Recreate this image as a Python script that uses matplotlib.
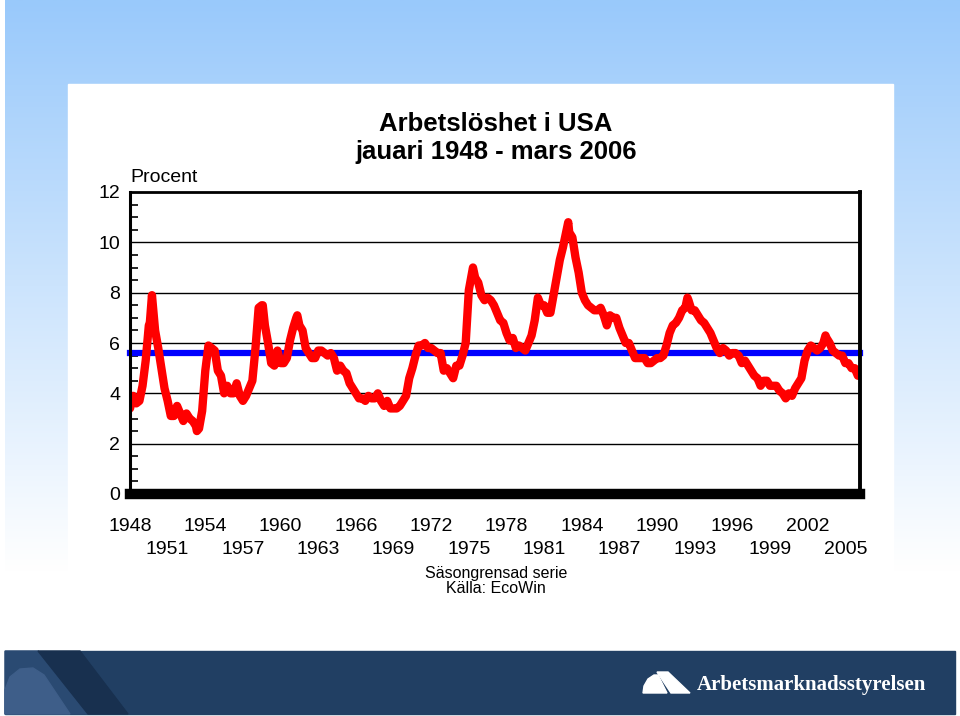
import numpy as np
import matplotlib
matplotlib.use("Agg")
import matplotlib.pyplot as plt
from matplotlib.patches import Rectangle, Polygon

# US unemployment rate (%), sampled Jan/Apr/Jul/Oct, 1948-2005
first_year = 1948
rate_q = [
    3.4, 3.9, 3.6, 3.7,   # 1948
    4.3, 5.3, 6.7, 7.9,   # 1949
    6.5, 5.8, 5.0, 4.2,   # 1950
    3.7, 3.1, 3.1, 3.5,   # 1951
    3.2, 2.9, 3.2, 3.0,   # 1952
    2.9, 2.7, 2.6, 3.3,   # 1953
    4.9, 5.9, 5.8, 5.7,   # 1954
    4.9, 4.7, 4.0, 4.3,   # 1955
    4.0, 4.0, 4.4, 3.9,   # 1956
    3.7, 3.9, 4.2, 4.5,   # 1957
    5.8, 7.4, 7.5, 6.7,   # 1958
    6.0, 5.2, 5.1, 5.7,   # 1959
    5.2, 5.2, 5.4, 6.1,   # 1960
    6.6, 7.0, 6.7, 6.5,   # 1961
    5.8, 5.6, 5.4, 5.4,   # 1962
    5.7, 5.7, 5.6, 5.5,   # 1963
    5.6, 5.4, 4.9, 5.1,   # 1964
    4.9, 4.8, 4.4, 4.2,   # 1965
    4.0, 3.8, 3.8, 3.7,   # 1966
    3.9, 3.8, 3.8, 4.0,   # 1967
    3.7, 3.5, 3.7, 3.4,   # 1968
    3.4, 3.4, 3.5, 3.7,   # 1969
    3.9, 4.6, 5.0, 5.5,   # 1970
    5.9, 5.9, 6.0, 5.8,   # 1971
    5.8, 5.7, 5.6, 5.6,   # 1972
    4.9, 5.0, 4.8, 4.6,   # 1973
    5.1, 5.1, 5.5, 6.0,   # 1974
    8.1, 8.8, 8.6, 8.4,   # 1975
    7.9, 7.7, 7.8, 7.7,   # 1976
    7.5, 7.2, 6.9, 6.8,   # 1977
    6.4, 6.1, 6.2, 5.8,   # 1978
    5.9, 5.8, 5.7, 6.0,   # 1979
    6.3, 6.9, 7.8, 7.5,   # 1980
    7.5, 7.2, 7.2, 7.9,   # 1981
    8.6, 9.3, 9.8, 10.4,  # 1982
    10.4, 10.2, 9.4, 8.8, # 1983
    8.0, 7.7, 7.5, 7.4,   # 1984
    7.3, 7.3, 7.4, 7.1,   # 1985
    6.7, 7.1, 7.0, 7.0,   # 1986
    6.6, 6.3, 6.0, 6.0,   # 1987
    5.7, 5.4, 5.4, 5.4,   # 1988
    5.4, 5.2, 5.2, 5.3,   # 1989
    5.4, 5.4, 5.5, 5.9,   # 1990
    6.4, 6.7, 6.8, 7.0,   # 1991
    7.3, 7.4, 7.7, 7.3,   # 1992
    7.3, 7.1, 6.9, 6.8,   # 1993
    6.6, 6.4, 6.1, 5.8,   # 1994
    5.6, 5.8, 5.7, 5.5,   # 1995
    5.6, 5.6, 5.5, 5.2,   # 1996
    5.3, 5.1, 4.9, 4.7,   # 1997
    4.6, 4.3, 4.5, 4.5,   # 1998
    4.3, 4.3, 4.3, 4.1,   # 1999
    4.0, 3.8, 4.0, 3.9,   # 2000
    4.2, 4.4, 4.6, 5.3,   # 2001
    5.7, 5.9, 5.8, 5.7,   # 2002
    5.8, 6.0, 6.2, 6.0,   # 2003
    5.7, 5.6, 5.5, 5.5,   # 2004
    5.2, 5.2, 5.0, 5.0,   # 2005
]
# 2006 monthly (jan-mar)
rate_2006 = [4.7, 4.8, 4.7]
# turning points (year + month/12, value)
peak_t = [1949.58, 1953.33, 1958.58, 1961.33, 1975.33, 1982.92, 1992.42, 2003.42]
peak_v = [6.8, 2.5, 7.5, 7.1, 9.0, 10.8, 7.8, 6.3]

average = 5.6
yticks = [0, 2, 4, 6, 8, 10, 12]
xtick_row1 = list(range(1948, 2006, 6))
xtick_row2 = list(range(1951, 2006, 6))

t = first_year + np.arange(len(rate_q)) / 4.0
t = np.concatenate([t, 2006 + np.arange(3) / 12.0, peak_t])
v = np.concatenate([rate_q, rate_2006, peak_v])
order = np.argsort(t)
t, v = t[order], v[order]

W, H = 960, 716
fig = plt.figure(figsize=(W / 100, H / 100), dpi=100)

# slide background
bg = fig.add_axes([0, 0, 1, 1])
bg.set_xlim(0, W)
bg.set_ylim(H, 0)
bg.axis("off")
top = np.array([0x99, 0xc9, 0xfb]) / 255
grad = np.linspace(0, 1, 300)[:, None, None]
grad = np.clip(grad * 1.12, 0, 1)
img = top * (1 - grad) + np.ones(3) * grad
bg.imshow(img, extent=[5, W, 640, 0], aspect="auto", zorder=0)
bg.add_patch(Rectangle((68, 84), 825, 560, color="white", zorder=1))

# footer
bg.add_patch(Rectangle((5, 651), 950, 63, color="#213f63", zorder=2))
bg.add_patch(Polygon([(5, 651), (38, 651), (88, 714), (5, 714)], color="#2a4a72", zorder=3))
bg.add_patch(Polygon([(38, 651), (80, 651), (128, 714), (88, 714)], color="#18304f", zorder=3))
bg.add_patch(Polygon([(5, 714), (5, 690), (10, 677), (20, 669), (33, 668), (44, 675), (70, 714)],
                     color="#3e5e89", zorder=4))
bg.add_patch(Polygon([(643, 693), (644, 686), (648, 679), (654, 675), (658, 675), (667, 693)],
                     color="white", zorder=4))
bg.add_patch(Polygon([(657, 672), (668, 672), (690, 693), (671, 693)], color="white", zorder=4))
bg.text(697, 685, "Arbetsmarknadsstyrelsen", family="Liberation Serif", weight="bold",
        fontsize=15, color="white", va="center", ha="left", zorder=5)

# titles
fig.text(496 / W, 1 - 124 / H, "Arbetslöshet i USA", ha="center", va="center",
         fontsize=18.5, weight="bold", family="Liberation Sans")
fig.text(496 / W, 1 - 152 / H, "jauari 1948 - mars 2006", ha="center", va="center",
         fontsize=18.5, weight="bold", family="Liberation Sans")
fig.text(130 / W, 1 - 178 / H, "Procent", ha="left", va="center",
         fontsize=14, family="Liberation Sans")
fig.text(496 / W, 1 - 581 / H, "Säsongrensad serie\nKälla: EcoWin", ha="center", va="center",
         fontsize=11.5, family="Liberation Sans", linespacing=1.05)

# chart
ax = fig.add_axes([130 / W, 1 - 494 / H, 730 / W, (494 - 192) / H])
ax.set_facecolor("none")
ax.set_xlim(1948.0, 2006.17)
ax.set_ylim(0, 12)

ax.axhline(average, color="#0000ff", lw=4.5, zorder=3, clip_on=False)
ax.plot(t, v, color="#ff0000", lw=6.0, solid_joinstyle="round", solid_capstyle="round", zorder=4)

for y in yticks[1:-1]:
    ax.axhline(y, color="black", lw=1.0, zorder=1)

ax.spines["top"].set_linewidth(2.0)
ax.spines["left"].set_linewidth(2.2)
ax.spines["right"].set_linewidth(2.8)
ax.spines["bottom"].set_linewidth(7.5)
for s in ax.spines.values():
    s.set_zorder(5)

ax.set_yticks(yticks)
ax.set_yticklabels([str(y) for y in yticks], family="Liberation Sans", fontsize=14)
ax.set_yticks(np.arange(0.5, 12, 0.5), minor=True)
ax.tick_params(axis="y", which="major", length=0, pad=7)
ax.tick_params(axis="y", which="minor", direction="in", length=6, width=1.2)

# two staggered rows of year labels: major = upper row, minor = lower row
ax.set_xticks(xtick_row1)
ax.set_xticklabels([str(y) for y in xtick_row1], family="Liberation Sans", fontsize=14)
ax.set_xticks(xtick_row2, minor=True)
ax.set_xticklabels([str(y) for y in xtick_row2], minor=True, family="Liberation Sans", fontsize=14)
ax.tick_params(axis="x", which="major", length=0, pad=17)
ax.tick_params(axis="x", which="minor", length=0, pad=33.5)

fig.savefig("out.png", dpi=100)
